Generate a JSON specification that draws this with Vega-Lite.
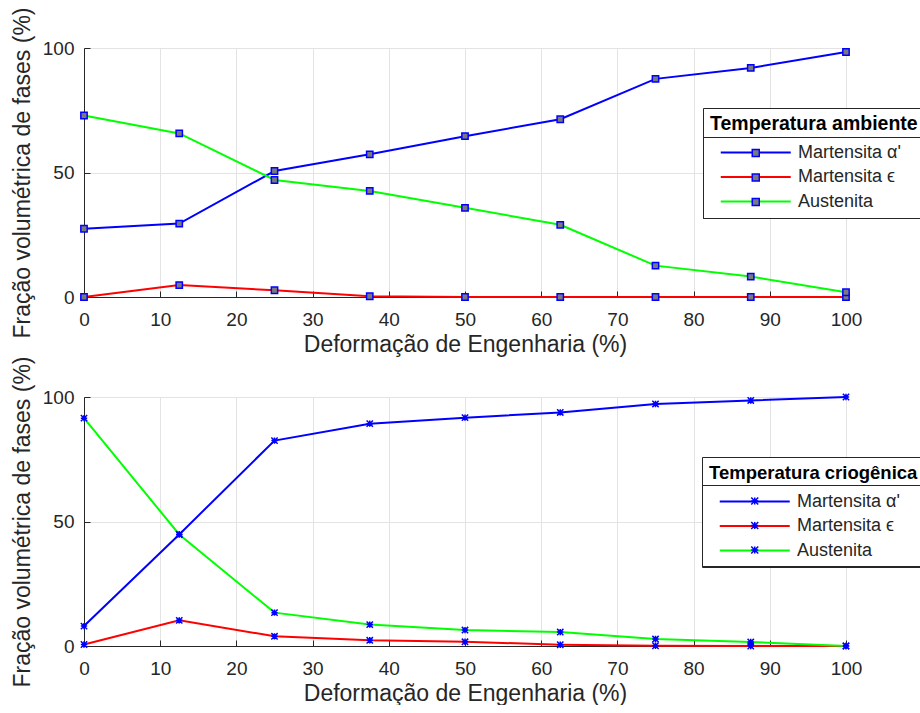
{
  "$schema": "https://vega.github.io/schema/vega-lite/v6.json",
  "background": "white",
  "padding": {"left": 11, "top": 6, "right": -25, "bottom": 0},
  "spacing": -1,
  "config": {
    "font": "Liberation Sans",
    "view": {"stroke": null},
    "axis": {
      "labelFont": "Liberation Sans", "labelFontSize": 19, "labelColor": "#262626", "labelFlush": false,
      "titleFont": "Liberation Sans", "titleFontSize": 23, "titleFontWeight": "normal", "titleColor": "#262626",
      "domainColor": "#262626", "domainWidth": 1, "tickColor": "#262626", "tickSize": -6, "tickWidth": 1,
      "gridColor": "#e3e3e3", "gridWidth": 1
    },
    "axisX": {"labelPadding": 19},
    "axisY": {"labelPadding": 16, "titlePadding": 8},
    "legend": {
      "labelFont": "Liberation Sans", "labelFontSize": 18, "labelColor": "#262626", "labelLimit": 400, "titleLimit": 400,
      "titleFont": "Liberation Sans", "titleFontSize": 19.5, "titleFontWeight": "bold", "titleColor": "#000000"
    }
  },
  "datasets": {
    "amb": [
      {"x": 0, "fase": "Martensita α'", "v": 27.4}, {"x": 12.5, "fase": "Martensita α'", "v": 29.5}, {"x": 25, "fase": "Martensita α'", "v": 50.6}, {"x": 37.5, "fase": "Martensita α'", "v": 57.3}, {"x": 50, "fase": "Martensita α'", "v": 64.6}, {"x": 62.5, "fase": "Martensita α'", "v": 71.4}, {"x": 75, "fase": "Martensita α'", "v": 87.6}, {"x": 87.5, "fase": "Martensita α'", "v": 92.0}, {"x": 100, "fase": "Martensita α'", "v": 98.4},
      {"x": 0, "fase": "Martensita ϵ", "v": 0}, {"x": 12.5, "fase": "Martensita ϵ", "v": 4.8}, {"x": 25, "fase": "Martensita ϵ", "v": 2.7}, {"x": 37.5, "fase": "Martensita ϵ", "v": 0.3}, {"x": 50, "fase": "Martensita ϵ", "v": 0}, {"x": 62.5, "fase": "Martensita ϵ", "v": 0}, {"x": 75, "fase": "Martensita ϵ", "v": 0}, {"x": 87.5, "fase": "Martensita ϵ", "v": 0}, {"x": 100, "fase": "Martensita ϵ", "v": 0},
      {"x": 0, "fase": "Austenita", "v": 72.9}, {"x": 12.5, "fase": "Austenita", "v": 65.7}, {"x": 25, "fase": "Austenita", "v": 47.0}, {"x": 37.5, "fase": "Austenita", "v": 42.6}, {"x": 50, "fase": "Austenita", "v": 35.8}, {"x": 62.5, "fase": "Austenita", "v": 29.0}, {"x": 75, "fase": "Austenita", "v": 12.6}, {"x": 87.5, "fase": "Austenita", "v": 8.2}, {"x": 100, "fase": "Austenita", "v": 1.9}
    ],
    "crio": [
      {"x": 0, "fase": "Martensita α'", "v": 8.0}, {"x": 12.5, "fase": "Martensita α'", "v": 44.8}, {"x": 25, "fase": "Martensita α'", "v": 82.5}, {"x": 37.5, "fase": "Martensita α'", "v": 89.3}, {"x": 50, "fase": "Martensita α'", "v": 91.7}, {"x": 62.5, "fase": "Martensita α'", "v": 93.8}, {"x": 75, "fase": "Martensita α'", "v": 97.2}, {"x": 87.5, "fase": "Martensita α'", "v": 98.6}, {"x": 100, "fase": "Martensita α'", "v": 100},
      {"x": 0, "fase": "Martensita ϵ", "v": 0.6}, {"x": 12.5, "fase": "Martensita ϵ", "v": 10.3}, {"x": 25, "fase": "Martensita ϵ", "v": 3.9}, {"x": 37.5, "fase": "Martensita ϵ", "v": 2.3}, {"x": 50, "fase": "Martensita ϵ", "v": 1.7}, {"x": 62.5, "fase": "Martensita ϵ", "v": 0.5}, {"x": 75, "fase": "Martensita ϵ", "v": 0.1}, {"x": 87.5, "fase": "Martensita ϵ", "v": 0}, {"x": 100, "fase": "Martensita ϵ", "v": 0},
      {"x": 0, "fase": "Austenita", "v": 91.5}, {"x": 12.5, "fase": "Austenita", "v": 44.8}, {"x": 25, "fase": "Austenita", "v": 13.4}, {"x": 37.5, "fase": "Austenita", "v": 8.6}, {"x": 50, "fase": "Austenita", "v": 6.4}, {"x": 62.5, "fase": "Austenita", "v": 5.6}, {"x": 75, "fase": "Austenita", "v": 2.8}, {"x": 87.5, "fase": "Austenita", "v": 1.6}, {"x": 100, "fase": "Austenita", "v": 0}
    ]
  },
  "resolve": {
    "scale": {"x": "independent", "y": "independent", "color": "independent", "opacity": "independent"},
    "legend": {"color": "independent", "opacity": "independent"}
  },
  "vconcat": [
    {
      "width": 762, "height": 249,
      "data": {"name": "amb"},
      "encoding": {
        "x": {"field": "x", "type": "quantitative", "scale": {"domain": [0, 100], "nice": false}, "axis": {"title": "Deformação de Engenharia (%)", "values": [0, 10, 20, 30, 40, 50, 60, 70, 80, 90, 100]}},
        "y": {"field": "v", "type": "quantitative", "scale": {"domain": [0, 100], "nice": false}, "axis": {"title": "Fração volumétrica de fases (%)", "values": [0, 50, 100]}}
      },
      "layer": [
        {
          "mark": {"type": "line", "strokeWidth": 2, "clip": false},
          "encoding": {
            "color": {"field": "fase", "type": "nominal",
              "scale": {"domain": ["Martensita α'", "Martensita ϵ", "Austenita"], "range": ["#0000ff", "#ff0000", "#00ff00"]},
              "legend": {"title": "Temperatura ambiente", "orient": "none", "legendX": 619, "legendY": 60, "zindex": 1,
                "symbolType": "M0.5,0L20.5,0", "symbolSize": 49, "symbolStrokeWidth": 2, "labelOffset": 70,
                "padding": 7, "strokeColor": "#262626", "fillColor": "white", "titlePadding": 9, "rowPadding": 6.5}
            }
          }
        },
        {
          "mark": {"type": "point", "shape": "square", "filled": true, "fill": "#7a7a7a", "stroke": "#0000ff", "strokeWidth": 1.5, "size": 40, "clip": false},
          "encoding": {
            "opacity": {"field": "fase", "type": "nominal",
              "scale": {"domain": ["Austenita", "Martensita α'", "Martensita ϵ"], "range": [1, 1, 1]},
              "legend": {"title": null, "orient": "none", "legendX": 619, "legendY": 89, "zindex": 2,
                "symbolType": "M9.5,-1L11.5,-1L11.5,1L9.5,1Z", "symbolSize": 49, "symbolStrokeWidth": 1.5,
                "labelOffset": 215, "labelExpr": "'\u00a0'",
                "padding": 7, "strokeColor": "#262626", "rowPadding": 6.5,
                "encode": {"symbols": {"update": {"fill": {"value": "#7a7a7a"}, "stroke": {"value": "#0000ff"}, "strokeWidth": {"value": 1.5}, "opacity": {"value": 1}}}}}
            }
          }
        }
      ]
    },
    {
      "width": 762, "height": 249,
      "data": {"name": "crio"},
      "encoding": {
        "x": {"field": "x", "type": "quantitative", "scale": {"domain": [0, 100], "nice": false}, "axis": {"title": "Deformação de Engenharia (%)", "values": [0, 10, 20, 30, 40, 50, 60, 70, 80, 90, 100]}},
        "y": {"field": "v", "type": "quantitative", "scale": {"domain": [0, 100], "nice": false}, "axis": {"title": "Fração volumétrica de fases (%)", "values": [0, 50, 100]}}
      },
      "layer": [
        {
          "mark": {"type": "line", "strokeWidth": 2, "clip": false},
          "encoding": {
            "color": {"field": "fase", "type": "nominal",
              "scale": {"domain": ["Martensita α'", "Martensita ϵ", "Austenita"], "range": ["#0000ff", "#ff0000", "#00ff00"]},
              "legend": {"title": "Temperatura criogênica", "orient": "none", "legendX": 618, "legendY": 60, "zindex": 1,
                "symbolType": "M0.5,0L20.5,0", "symbolSize": 49, "symbolStrokeWidth": 2, "labelOffset": 70,
                "titleFontSize": 18.5,
                "padding": 7, "strokeColor": "#262626", "fillColor": "white", "titlePadding": 10, "rowPadding": 6.5}
            }
          }
        },
        {
          "mark": {"type": "point", "shape": "M-1,-1L1,1M-1,1L1,-1M-1,0L1,0M0,-1L0,1", "filled": false, "stroke": "#0000ff", "strokeWidth": 1.5, "size": 40, "clip": false},
          "encoding": {
            "opacity": {"field": "fase", "type": "nominal",
              "scale": {"domain": ["Austenita", "Martensita α'", "Martensita ϵ"], "range": [1, 1, 1]},
              "legend": {"title": null, "orient": "none", "legendX": 618, "legendY": 88, "zindex": 2,
                "symbolType": "M9.5,-1L11.5,1M9.5,1L11.5,-1M9.5,0L11.5,0M10.5,-1L10.5,1", "symbolSize": 49, "symbolStrokeWidth": 1.5,
                "labelOffset": 215, "labelExpr": "'\u00a0'",
                "padding": 7, "strokeColor": "#262626", "rowPadding": 6.5,
                "encode": {"symbols": {"update": {"fill": {"value": "transparent"}, "stroke": {"value": "#0000ff"}, "strokeWidth": {"value": 1.5}, "opacity": {"value": 1}}}}}
            }
          }
        }
      ]
    }
  ]
}
